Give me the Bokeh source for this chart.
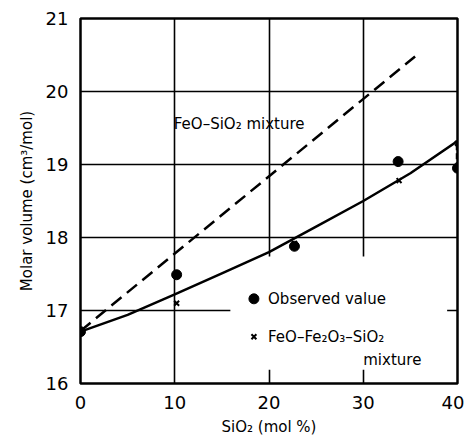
from bokeh.plotting import figure
from bokeh.models import BoxAnnotation, Range1d, FixedTicker
from bokeh.core.properties import value
from bokeh.embed import file_html
from bokeh.resources import INLINE

# --- data ---
x_ticks = [0, 10, 20, 30, 40]
y_ticks = [16, 17, 18, 19, 20, 21]

# FeO-SiO2 mixture (dashed straight line)
feo_sio2_x = [0, 35.5]
feo_sio2_y = [16.72, 20.48]

# FeO-Fe2O3-SiO2 mixture curve (solid)
curve_x = [0, 5, 10, 15, 20, 25, 30, 35, 40]
curve_y = [16.71, 16.94, 17.22, 17.51, 17.80, 18.15, 18.50, 18.88, 19.32]

# observed values (dots)
obs_x = [0, 10.2, 22.7, 33.7, 40]
obs_y = [16.71, 17.49, 17.88, 19.04, 18.95]

# FeO-Fe2O3-SiO2 mixture computed points (crosses)
mix_x = [10.2, 22.7, 33.8, 40]
mix_y = [17.10, 17.92, 18.78, 19.29]

# annotation / legend text
label_line = "FeO\u2013SiO\u2082 mixture"
label_obs = "Observed value"
label_mix1 = "FeO\u2013Fe\u2082O\u2083\u2013SiO\u2082"
label_mix2 = "mixture"
line_label_pos = ([9.9], [19.55])
legend_obs_pos = ([18.4], [17.16])
legend_mix_pos = ([18.4], [16.64])
legend_mix2_pos = ([30.0], [16.32])

FONT = "DejaVu Sans"

p = figure(frame_width=377, frame_height=365, output_backend="svg", toolbar_location=None,
           x_range=Range1d(0, 40), y_range=Range1d(16, 21),
           min_border_left=80, min_border_right=7, min_border_top=18, min_border_bottom=50)

p.outline_line_color = "black"
p.outline_line_width = 2.5
p.background_fill_color = "white"
p.border_fill_color = "white"

for ax in (p.xaxis[0], p.yaxis[0]):
    ax.axis_line_color = None
    ax.major_tick_line_color = None
    ax.minor_tick_line_color = None
    ax.major_label_text_font = FONT
    ax.major_label_text_font_size = "18px"
    ax.major_label_text_color = "black"
    ax.axis_label_text_font = FONT
    ax.axis_label_text_font_size = "15px"
    ax.axis_label_text_font_style = "normal"
    ax.axis_label_text_color = "black"

p.xaxis.ticker = FixedTicker(ticks=x_ticks)
p.yaxis.ticker = FixedTicker(ticks=y_ticks)
p.xaxis.major_label_standoff = 6
p.yaxis.major_label_standoff = 6
p.xaxis.axis_label = "SiO\u2082 (mol %)"
p.yaxis.axis_label = "Molar volume (cm\u00b3/mol)"
p.xaxis.axis_label_standoff = 6
p.yaxis.axis_label_standoff = 7

for g in (p.xgrid[0], p.ygrid[0]):
    g.grid_line_color = "black"
    g.grid_line_width = 1.6
    g.grid_line_alpha = 1.0
    g.level = "image"

# white mask where the grid is interrupted around the legend
p.add_layout(BoxAnnotation(left=15.9, right=38.9, bottom=16.19, top=17.74,
                           fill_color="white", fill_alpha=1.0, line_color=None,
                           level="underlay"))

p.line(feo_sio2_x, feo_sio2_y, line_color="black", line_width=2.5, line_dash="13 7")
p.line(curve_x, curve_y, line_color="black", line_width=2.5)
p.segment(x0=[obs_x[-1]], y0=[obs_y[-1]], x1=[mix_x[-1]], y1=[mix_y[-1]],
          line_color="black", line_width=3.5, line_dash="6 3")

p.scatter(obs_x, obs_y, marker="circle", size=10, fill_color="black", line_color="black")
p.scatter(mix_x, mix_y, marker="x", size=7, line_color="black", line_width=2)

# texts
p.text(*line_label_pos, text=[label_line], text_font=value(FONT), text_font_size="15px",
       text_baseline="middle", text_align="left", text_color="black")
p.scatter(*legend_obs_pos, marker="circle", size=10, fill_color="black", line_color="black")
p.text([legend_obs_pos[0][0] + 1.5], legend_obs_pos[1], text=[label_obs], text_font=value(FONT),
       text_font_size="15px", text_baseline="middle", text_align="left", text_color="black")
p.scatter(*legend_mix_pos, marker="x", size=7, line_color="black", line_width=2)
p.text([legend_mix_pos[0][0] + 1.5], legend_mix_pos[1], text=[label_mix1], text_font=value(FONT),
       text_font_size="15px", text_baseline="middle", text_align="left", text_color="black")
p.text(*legend_mix2_pos, text=[label_mix2], text_font=value(FONT),
       text_font_size="15px", text_baseline="middle", text_align="left", text_color="black")

open("out.html", "w").write(file_html(p, INLINE))
